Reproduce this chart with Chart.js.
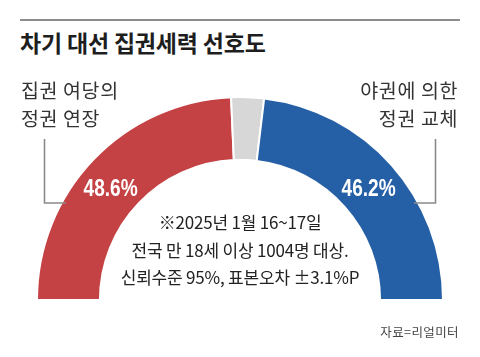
<!DOCTYPE html>
<html><head><meta charset="utf-8">
<script src="https://cdn.jsdelivr.net/npm/chart.js@4"></script>
<style>
html,body{margin:0;padding:0;background:#fff;}
#wrap{position:relative;width:480px;height:357px;overflow:hidden;font-family:"Noto Sans CJK KR","Noto Sans",sans-serif;}
canvas{position:absolute;left:0;top:0;}
.t{position:absolute;white-space:nowrap;color:#222;}
#rule{position:absolute;left:20px;top:19px;width:440px;height:2px;background:#8c8c8c;}
#title{left:20px;top:25px;font-size:23px;font-weight:700;color:#1e1e1e;letter-spacing:-0.2px;}
.side{font-size:19.5px;line-height:28px;color:#333;top:76px;letter-spacing:0.6px;}
#lab0{left:21px;}
#lab1{right:22px;text-align:right;}
.pct{font-family:"Liberation Sans","Arial",sans-serif;font-weight:700;font-size:23px;line-height:23px;color:#fff;top:177px;transform-origin:50% 50%;}
#note{left:0;width:480px;text-align:center;top:208px;font-size:17px;line-height:27.5px;color:#222;letter-spacing:-0.2px;}
#src{right:21px;top:322px;font-size:12.5px;color:#444;letter-spacing:0.4px;}
</style></head>
<body><div id="wrap">
<div id="rule"></div>
<div class="t" id="title"></div>
<canvas id="c" width="480" height="357"></canvas>
<div class="t side" id="lab0"></div>
<div class="t side" id="lab1"></div>
<div class="t pct" id="p0"></div>
<div class="t pct" id="p1"></div>
<div class="t" id="note"></div>
<div class="t" id="src"></div>
</div>
<script>
const titleText = "차기 대선 집권세력 선호도";
const categories = ["집권 여당의\n정권 연장", "기타", "야권에 의한\n정권 교체"];
const values = [48.6, 5.2, 46.2];
const colors = ["#c54244", "#d7d7d7", "#255fa5"];
const noteLines = ["※2025년 1월 16~17일", "전국 만 18세 이상 1004명 대상.", "신뢰수준 95%, 표본오차 ±3.1%P"];
const sourceText = "자료=리얼미터";

document.getElementById('title').textContent = titleText;
document.getElementById('lab0').innerHTML = categories[0].replace("\n","<br>");
document.getElementById('lab1').innerHTML = categories[2].replace("\n","<br>");
document.getElementById('note').innerHTML = noteLines.join("<br>");
document.getElementById('src').textContent = sourceText;

const leaderLines = {
  id: 'leaders',
  afterDatasetsDraw(chart) {
    const ctx = chart.ctx;
    ctx.save();
    ctx.strokeStyle = '#8a8a8a';
    ctx.lineWidth = 1.6;
    ctx.beginPath();
    ctx.moveTo(44.5, 139); ctx.lineTo(44.5, 203); ctx.lineTo(66, 203);
    ctx.moveTo(435.5, 139); ctx.lineTo(435.5, 203); ctx.lineTo(414, 203);
    ctx.stroke();
    ctx.restore();
  }
};

const chart = new Chart(document.getElementById('c'), {
  type: 'doughnut',
  data: {
    labels: categories,
    datasets: [{
      data: values,
      backgroundColor: colors,
      borderColor: '#ffffff',
      borderWidth: 2,
      hoverOffset: 0
    }]
  },
  options: {
    responsive: false,
    animation: false,
    rotation: -90,
    circumference: 180,
    cutout: '69%',
    layout: { padding: { left: 36, right: 36, top: 96, bottom: 56 } },
    plugins: { legend: { display: false }, tooltip: { enabled: false } },
    events: []
  },
  plugins: [leaderLines]
});

// percent labels positioned from arc elements
const arcs = chart.getDatasetMeta(0).data;
function placeLabel(id, i, dx) {
  const el = document.getElementById(id);
  el.textContent = values[i].toFixed(1) + "%";
  const p = arcs[i].tooltipPosition();
  const w = el.offsetWidth;
  el.style.transform = 'scaleX(' + (54 / w).toFixed(3) + ')';
  el.style.left = (p.x + dx - w / 2) + 'px';
}
placeLabel('p0', 0, -6);
placeLabel('p1', 2, 0);
</script>
</body></html>
